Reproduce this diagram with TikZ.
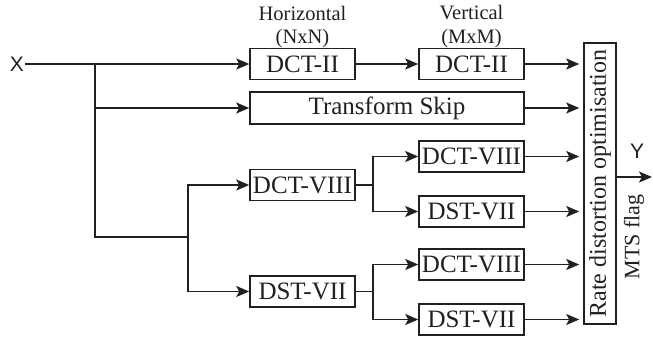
\documentclass[tikz,border=0pt]{standalone}
\usepackage{fontspec}
\setmainfont{Liberation Serif}
\newfontfamily\sansX{Liberation Sans}
\usetikzlibrary{arrows.meta}
\definecolor{ink}{HTML}{231F20}
\begin{document}
\begin{tikzpicture}[x=1pt,y=-1pt,
  line width=1.8pt, draw=ink, text=ink,
  box/.style={draw, line width=1.6pt, inner sep=0pt, minimum width=105pt, minimum height=31pt, font=\fontsize{25}{25}\selectfont},
  lbl/.style={inner sep=0pt, font=\fontsize{20.5}{20.5}\selectfont},
  arr/.style={-{Stealth[length=13pt,width=11pt,inset=3pt]}},
  arrg/.style={arr, shorten >=4pt}]
\useasboundingbox (0,0) rectangle (653,341);
% input
\node[inner sep=0pt, font=\sansX\fontsize{21}{21}\selectfont] (X) at (17,64) {X};
% boxes
\node[box] (hdct) at (302.5,64) {DCT-II};
\node[box] (vdct) at (471.5,64) {DCT-II};
\node[box, minimum width=274pt, minimum height=32pt] (skip) at (387,108) {Transform Skip};
\node[box] (dcta) at (302.5,185) {DCT-VIII};
\node[box] (dsta) at (302.5,291.5) {DST-VII};
\node[box] (dctb) at (471.5,156.5) {DCT-VIII};
\node[box] (dstb) at (471.5,211.5) {DST-VII};
\node[box] (dctc) at (471.5,264.5) {DCT-VIII};
\node[box] (dstc) at (471.5,319.5) {DST-VII};
\node[draw, line width=1.6pt, inner sep=0pt, minimum width=32pt, minimum height=281pt] (rdo) at (600,183.5) {};
\node[rotate=90, inner sep=0pt, font=\fontsize{24}{24}\selectfont] (rdot) at (rdo.center) {Rate distortion optimisation};
% labels
\node[lbl] (hl1) at (302.5,13) {Horizontal};
\node[lbl] (hl2) at (302.5,38.5) {(NxN)};
\node[lbl] (vl1) at (471.5,13) {Vertical};
\node[lbl] (vl2) at (471.5,38.5) {(MxM)};
\node[inner sep=0pt, font=\sansX\fontsize{21}{21}\selectfont] (Y) at (637,151) {Y};
\node[rotate=90, inner sep=0pt, font=\fontsize{22}{22}\selectfont] (mts) at (634,237) {MTS flag};
% coordinates
\coordinate (b1) at (95,64);
\coordinate (b2) at (95,108);
\coordinate (b3) at (95,237);
\coordinate (b4) at (188,237);
\coordinate (c1) at (373,185);
\coordinate (c2) at (373,291.5);
\coordinate (out) at (652,177);
% connectors
\draw[arr] (X) -- (hdct);
\draw[arr] (hdct) -- (vdct);
\draw (b1) -- (b3) -- (b4);
\draw[arr] (b2) -- (skip);
\draw[arr] (b4) |- (dcta.west);
\draw[arr] (b4) |- (dsta.west);
\draw (dcta.east) -- (c1);
\draw[arr] (c1) |- (dctb.west);
\draw[arr] (c1) |- (dstb.west);
\draw (dsta.east) -- (c2);
\draw[arr] (c2) |- (dctc.west);
\draw[arr] (c2) |- (dstc.west);
\foreach \n in {vdct,skip,dctb,dstb,dctc,dstc}
  \draw[arrg] (\n.east) -- (\n.east -| rdo.west);
\draw[arr] (rdo.east |- out) -- (out);
\end{tikzpicture}
\end{document}
